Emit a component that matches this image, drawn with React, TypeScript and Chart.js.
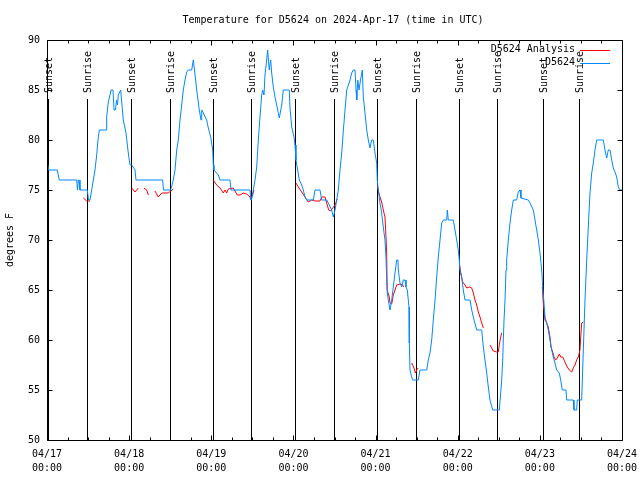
import React, { useEffect, useRef } from 'react';
import { Chart, registerables } from 'chart.js';

Chart.register(...registerables);

const TITLE = 'Temperature for D5624 on 2024-Apr-17 (time in UTC)';
const Y_TITLE = 'degrees F';
const DAY_LABELS = ['04/17', '04/18', '04/19', '04/20', '04/21', '04/22', '04/23', '04/24'];
const TIME_LABEL = '00:00';
const SERIES_NAMES = ['D5624 Analysis', 'D5624'];
const SERIES_COLORS = ['#ff0000', '#0088ff'];

const SUN_EVENTS = ['Sunset', 'Sunrise', 'Sunset', 'Sunrise', 'Sunset', 'Sunrise', 'Sunset', 'Sunrise', 'Sunset', 'Sunrise', 'Sunset', 'Sunrise', 'Sunset', 'Sunrise'];
// hours after 04/17 00:00 UTC
const SUN_HOURS = [0.2, 11.77, 24.63, 35.85, 48.59, 59.69, 72.55, 83.85, 96.4, 107.8, 120.5, 131.6, 144.8, 155.4];

// Observations (hours after 04/17 00:00 UTC, degrees F)
const OBS_HOURS = [
  0, 0.44, 3.01, 3.59, 8.68, 8.91, 9.15, 9.35, 9.64, 11.78,
  12.13, 12.56, 13.06, 13.53, 14.02, 14.52, 14.9, 15.28, 17.24, 17.44,
  17.91, 18.41, 18.7, 19.28, 19.58, 20.01, 20.31, 20.6, 20.83, 21.53,
  22.29, 23.08, 23.75, 24.25, 24.75, 25.71, 26.0, 33.8, 34.03, 36.14,
  36.9, 37.4, 37.9, 38.36, 38.86, 39.36, 39.82, 40.32, 40.82, 41.28,
  42.28, 42.75, 43.1, 43.74, 44.5, 45.0, 45.2, 45.67, 46.66, 47.13,
  47.83, 48.41, 48.59, 48.79, 50.05, 50.55, 53.47, 53.76, 59.31, 59.52,
  59.75, 60.27, 60.77, 61.27, 61.74, 62.23, 62.73, 63.02, 63.4, 63.69,
  64.18, 64.47, 64.94, 65.35, 65.65, 66.12, 66.62, 67.29, 67.87, 68.58,
  69.04, 70.8, 71.0, 71.5, 72.17, 72.46, 72.75, 73.13, 73.72, 74.42,
  74.89, 75.38, 75.88, 77.81, 78.3, 79.76, 80.26, 81.72, 82.19, 83.18,
  83.65, 84.15, 84.64, 85.11, 85.61, 86.11, 86.59, 87.07, 87.57, 88.53,
  89.03, 89.5, 90.0, 90.29, 90.5, 90.79, 91.17, 91.6, 92.13, 92.42,
  92.91, 93.41, 93.88, 94.37, 94.87, 95.34, 95.83, 96.33, 96.5, 96.79,
  97.29, 97.78, 98.25, 98.75, 99.04, 99.25, 99.42, 99.72, 100.22, 100.71,
  101.18, 101.68, 102.17, 102.55, 102.64, 103.14, 103.64, 104.1, 104.6, 104.89,
  105.27, 105.77, 105.86, 106.06, 106.56, 106.85, 108.48, 108.98, 110.94, 111.41,
  111.9, 112.4, 112.87, 113.37, 113.86, 114.33, 114.83, 115.32, 115.79, 116.79,
  116.96, 117.25, 118.71, 119.21, 119.7, 120.17, 120.46, 120.67, 121.17, 121.63,
  122.13, 123.59, 124.09, 124.76, 125.55, 127.01, 127.48, 127.97, 128.47, 128.94,
  129.43, 130.22, 132.15, 132.56, 132.85, 133.15, 133.32, 133.53, 133.82, 134.11,
  134.31, 134.78, 135.28, 135.77, 136.24, 137.23, 137.7, 138.2, 138.49, 140.63,
  141.12, 142.09, 142.58, 143.08, 143.55, 144.04, 144.54, 144.83, 145.21, 145.5,
  146.0, 146.47, 146.96, 147.46, 147.93, 148.42, 148.92, 149.68, 150.09, 150.55,
  151.63, 151.84, 153.77, 153.97, 154.76, 154.94, 156.23, 156.7, 157.19, 157.69,
  158.15, 158.65, 159.15, 159.61, 160.11, 160.61, 162.54, 163.03, 163.53, 164.0,
  164.49, 164.99, 165.46, 165.96, 166.45, 166.92, 167.42, 168,
];
const OBS_TEMPS = [
  78, 77, 77, 76, 76, 75, 76, 76, 75, 75,
  74, 74, 75, 76, 77, 78.5, 80, 81, 81, 82.3,
  83.8, 84.5, 85, 85, 83, 83, 84, 83.5, 84.5, 85,
  82, 80.7, 78.7, 77.5, 77.5, 77, 76, 76, 75, 75,
  76, 77, 79, 80, 82, 83.5, 85, 86, 86.8, 87,
  87, 88, 87, 85, 83, 82, 83, 82.7, 82, 81.2,
  80.3, 79, 77.5, 77, 76.5, 76, 76, 75, 75, 74,
  74, 75, 76, 77.3, 80, 82.3, 84.5, 85, 84.5, 86.5,
  88, 89, 87, 88, 86.7, 85.3, 84.3, 83.2, 82.2, 83.5,
  85, 85, 83.2, 81.3, 80.3, 79.5, 78, 77.2, 76, 75.5,
  75, 74.3, 74, 74, 75, 75, 74, 74, 73.7, 73,
  72.3, 73, 74, 75, 77, 78.7, 81, 83, 85, 86,
  86.7, 87, 87, 85, 84, 86, 85, 86, 87, 84.3,
  82.7, 81, 80, 79.2, 80, 80, 78.7, 77.7, 76, 75,
  73.7, 72.7, 71.3, 70, 68.3, 66, 64.7, 64, 63, 64,
  65.3, 66.7, 68, 68, 67, 65.7, 65.3, 66, 66, 65.3,
  65, 63.3, 59.7, 57, 56.3, 56, 56, 57, 57, 58,
  58.7, 60, 62, 64, 66.3, 68.3, 70, 71.7, 72, 72,
  73, 72, 72, 71, 70, 69, 68, 67, 66.3, 65,
  64, 64, 63, 62, 61, 61, 59.3, 58, 56.7, 55.3,
  54, 53, 53, 54.7, 56, 58, 60, 62, 64, 67,
  68, 70, 71.7, 73, 74, 74, 74.8, 75, 74.2, 74,
  73.7, 73, 72, 71, 70, 68.7, 67, 65.3, 63.7, 62.3,
  61.7, 61, 60, 59, 58.3, 57.7, 57, 56.7, 56, 55,
  55, 54, 54, 53, 53, 54, 54, 59, 64, 68,
  71.3, 74.7, 76.7, 77.7, 79, 80, 80, 79, 78.2, 79,
  79, 78, 77.2, 76.8, 76.3, 75.3, 75, 75,
];

// Analysis (null = gap)
const ANA_HOURS = [
  10.61, 11.6, 12.56, 18,
  24.75, 25.71, 26.68, 27.5,
  28.34, 29.13, 29.6, 30.5,
  31.56, 32.52, 33.51, 34.48, 35.44, 36.23, 36.9, 42,
  48.59, 49.58, 50.55, 51.51, 52.01, 52.5, 52.97, 54.43, 54.93, 55.6, 56.39, 57.35, 58.35, 59.31, 59.52, 59.75, 60.1, 60.48, 66,
  72.75, 73.43, 74.42, 75.38, 76.35, 77.34, 78.3, 79.76, 80.26, 81.22, 81.72, 82.3, 82.89, 83.47, 84.15, 84.82, 90,
  96.5, 97.09, 97.78, 98.25, 98.75, 99.04, 99.25, 99.39, 100.0, 100.22, 100.71, 101.18, 101.68, 102.17, 103.14, 103.93, 104.31, 105,
  106.56, 107.23, 107.61, 108.19, 108.48, 114,
  120.46, 120.87, 121.46, 122.13, 122.63, 123.39, 124.09, 124.56, 125.05, 125.55, 126.02, 126.51, 127.01, 127.48, 128.5,
  129.43, 129.93, 130.39, 131.39, 131.85, 132.15, 132.56, 132.85, 138,
  144.71, 145.0, 145.5, 146.0, 146.47, 146.96, 147.26, 147.75, 148.13, 148.63, 149.1, 149.68, 150.09, 150.67, 151.34, 152.01, 152.6, 153.3, 153.77, 154.27, 154.76, 155.23, 155.72, 155.93, 156.23, 156.7,
];
const ANA_TEMPS = [
  74.2, 73.9, 73.9, null,
  75.2, 74.8, 75.2, null,
  75.2, 75, 74.5, null,
  74.9, 74.3, 74.7, 74.7, 74.7, 74.9, 75.1, null,
  76, 75.5, 75.2, 74.7, 75, 74.7, 75.1, 75.2, 74.9, 74.5, 74.5, 74.7, 74.6, 74.3, 74, 74.3, 74.5, 75, null,
  75.7, 75.3, 74.8, 74.3, 73.8, 74, 73.9, 73.9, 74.3, 74.3, 73.7, 73, 72.9, 73.2, 73.5, 74.1, null,
  75.5, 74.5, 73.8, 73, 72.3, 70.3, 68.7, 65, 64.3, 63.7, 63.6, 64.5, 65, 65.5, 65.6, 65.5, 65.3, null,
  57.7, 57.2, 56.7, 57.1, 57.2, null,
  67.7, 66.7, 65.8, 65.5, 65.2, 65.3, 65.2, 64.7, 64, 63.5, 62.8, 62.3, 61.7, 61.2, null,
  59.5, 59.2, 58.9, 58.8, 58.8, 59.5, 60.3, 60.7, null,
  65.3, 63.7, 62, 61.7, 61.3, 60.3, 59.3, 58.8, 58.3, 58, 58.2, 58.6, 58.3, 58.3, 57.8, 57.3, 57, 56.8, 57.2, 57.5, 58, 58.3, 59, 60.3, 61.7, 61.8,
];

const X_MIN = 0;
const X_MAX = 168;
const Y_MIN = 50;
const Y_MAX = 90;
const SUN_LINE_TOP = 84.1;

const FONT = '"DejaVu Sans Mono", monospace';

function pairs(xs: number[], ys: (number | null)[]) {
  const n = Math.min(xs.length, ys.length);
  const out: { x: number; y: number | null }[] = [];
  for (let i = 0; i < n; i++) out.push({ x: xs[i], y: ys[i] });
  return out;
}

const overlayPlugin = {
  id: 'gnuOverlay',
  beforeDatasetsDraw(chart: any) {
    const { ctx, chartArea: a, scales } = chart;
    const x = scales.x;
    const y = scales.y;
    ctx.save();
    ctx.strokeStyle = '#000';
    ctx.fillStyle = '#000';
    ctx.lineWidth = 1;
    ctx.font = `10px ${FONT}`;
    const top = Math.round(y.getPixelForValue(SUN_LINE_TOP));
    SUN_HOURS.forEach((h, i) => {
      const px = Math.round(x.getPixelForValue(h)) + 0.5;
      ctx.beginPath();
      ctx.moveTo(px, top);
      ctx.lineTo(px, a.bottom);
      ctx.stroke();
      ctx.save();
      ctx.translate(px + 1, top - 6);
      ctx.rotate(-Math.PI / 2);
      ctx.textAlign = 'left';
      ctx.textBaseline = 'middle';
      ctx.fillText(SUN_EVENTS[i], 0, 0);
      ctx.restore();
    });
    ctx.restore();
  },
  afterDraw(chart: any) {
    const { ctx, chartArea: a, scales } = chart;
    const x = scales.x;
    const y = scales.y;
    ctx.save();
    ctx.strokeStyle = '#000';
    ctx.lineWidth = 1;
    const L = Math.round(a.left) + 0.5;
    const R = Math.round(a.right) + 0.5;
    const T = Math.round(a.top) + 0.5;
    const B = Math.round(a.bottom) + 0.5;
    ctx.beginPath();
    ctx.rect(L, T, R - L, B - T);
    ctx.stroke();
    // y ticks
    for (let v = Y_MIN; v <= Y_MAX; v += 5) {
      const py = Math.round(y.getPixelForValue(v)) + 0.5;
      ctx.beginPath();
      ctx.moveTo(L, py); ctx.lineTo(L + 5, py);
      ctx.moveTo(R, py); ctx.lineTo(R - 5, py);
      ctx.stroke();
    }
    // x ticks
    for (let h = X_MIN; h <= X_MAX; h += 6) {
      const px = Math.round(x.getPixelForValue(h)) + 0.5;
      const len = h % 24 === 0 ? 5 : 3;
      ctx.beginPath();
      ctx.moveTo(px, B); ctx.lineTo(px, B - len);
      ctx.moveTo(px, T); ctx.lineTo(px, T + len);
      ctx.stroke();
    }
    // title
    ctx.fillStyle = '#000';
    ctx.font = `10px ${FONT}`;
    ctx.textAlign = 'center';
    ctx.textBaseline = 'middle';
    ctx.fillText(TITLE, 333, 20);
    // legend
    const lx = a.right - 47;
    const ly0 = a.top + 9.5;
    SERIES_NAMES.forEach((name, i) => {
      const ly = ly0 + i * 13;
      ctx.fillStyle = '#000';
      ctx.textAlign = 'right';
      ctx.fillText(name, lx, ly);
      ctx.strokeStyle = SERIES_COLORS[i];
      ctx.beginPath();
      ctx.moveTo(lx + 5, Math.round(ly) + 0.5);
      ctx.lineTo(lx + 35, Math.round(ly) + 0.5);
      ctx.stroke();
    });
    ctx.restore();
  },
};

export default function App() {
  const ref = useRef<HTMLCanvasElement | null>(null);
  useEffect(() => {
    if (!ref.current) return;
    const chart = new Chart(ref.current, {
      type: 'line',
      data: {
        datasets: [
          {
            label: SERIES_NAMES[0],
            data: pairs(ANA_HOURS, ANA_TEMPS),
            borderColor: SERIES_COLORS[0],
            backgroundColor: SERIES_COLORS[0],
            borderWidth: 1,
            pointRadius: 0,
            spanGaps: false,
            tension: 0,
            order: 2,
          },
          {
            label: SERIES_NAMES[1],
            data: pairs(OBS_HOURS, OBS_TEMPS),
            borderColor: SERIES_COLORS[1],
            backgroundColor: SERIES_COLORS[1],
            borderWidth: 1,
            pointRadius: 0,
            tension: 0,
            order: 1,
          },
        ],
      },
      options: {
        responsive: false,
        animation: false,
        parsing: true,
        layout: { padding: { top: 40, right: 18, left: 0, bottom: 0 } },
        plugins: {
          legend: { display: false },
          tooltip: { enabled: false },
          title: { display: false },
        },
        scales: {
          x: {
            type: 'linear',
            min: X_MIN,
            max: X_MAX,
            grid: { display: false, drawTicks: false },
            border: { display: false },
            afterFit: (s: any) => {
              s.height = 40;
              s.paddingLeft = 0;
              s.paddingRight = 0;
            },
            ticks: {
              stepSize: 6,
              autoSkip: false,
              maxRotation: 0,
              minRotation: 0,
              padding: 8,
              color: '#000',
              font: { family: FONT, size: 10, lineHeight: 1.33 },
              callback: (v: any) => {
                const n = Number(v);
                return n % 24 === 0 ? [DAY_LABELS[n / 24], TIME_LABEL] : '';
              },
            },
          },
          y: {
            type: 'linear',
            min: Y_MIN,
            max: Y_MAX,
            grid: { display: false, drawTicks: false },
            border: { display: false },
            afterFit: (s: any) => {
              s.width = 47;
              s.paddingTop = 0;
              s.paddingBottom = 0;
            },
            title: {
              display: true,
              text: Y_TITLE,
              color: '#000',
              font: { family: FONT, size: 10 },
              padding: { top: 4, bottom: 0 },
            },
            ticks: {
              stepSize: 5,
              padding: 7,
              color: '#000',
              font: { family: FONT, size: 10 },
            },
          },
        },
      },
      plugins: [overlayPlugin],
    } as any);
    return () => chart.destroy();
  }, []);
  return (
    <div style={{ position: 'absolute', left: 0, top: 0, width: 640, height: 480, background: '#fff' }}>
      <canvas ref={ref} width={640} height={480} />
    </div>
  );
}
